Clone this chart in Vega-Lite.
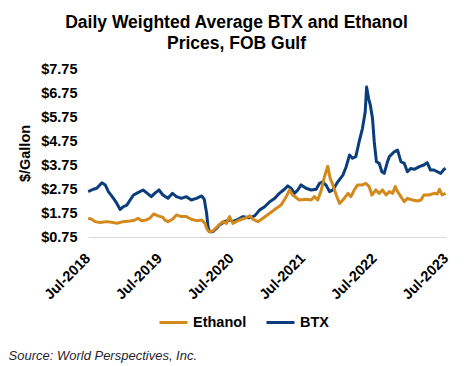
{
  "$schema": "https://vega.github.io/schema/vega-lite/v6.json",
  "width": 358,
  "height": 168,
  "autosize": {"type": "none"},
  "padding": {"left": 88, "top": 69, "right": 29, "bottom": 129},
  "background": "white",
  "config": {
    "font": "Liberation Sans",
    "view": {"stroke": null}
  },
  "title": {
    "text": ["Daily Weighted Average BTX and Ethanol", "Prices, FOB Gulf"],
    "font": "Liberation Sans",
    "fontSize": 17.5,
    "fontWeight": "bold",
    "color": "#000000",
    "anchor": "middle",
    "dx": -30.5,
    "lineHeight": 21,
    "offset": 9
  },
  "data": {
    "values": [
      {"date": "2018-07-02", "series": "BTX", "price": 2.64},
      {"date": "2018-07-28", "series": "BTX", "price": 2.74},
      {"date": "2018-08-15", "series": "BTX", "price": 2.78},
      {"date": "2018-09-10", "series": "BTX", "price": 3.01},
      {"date": "2018-09-27", "series": "BTX", "price": 2.92},
      {"date": "2018-10-13", "series": "BTX", "price": 2.64},
      {"date": "2018-11-08", "series": "BTX", "price": 2.36},
      {"date": "2018-11-25", "series": "BTX", "price": 2.15},
      {"date": "2018-12-12", "series": "BTX", "price": 1.9},
      {"date": "2018-12-28", "series": "BTX", "price": 2.01},
      {"date": "2019-01-15", "series": "BTX", "price": 2.08},
      {"date": "2019-02-01", "series": "BTX", "price": 2.29},
      {"date": "2019-02-18", "series": "BTX", "price": 2.5},
      {"date": "2019-03-13", "series": "BTX", "price": 2.6},
      {"date": "2019-04-08", "series": "BTX", "price": 2.71},
      {"date": "2019-04-25", "series": "BTX", "price": 2.6},
      {"date": "2019-05-20", "series": "BTX", "price": 2.43},
      {"date": "2019-06-06", "series": "BTX", "price": 2.57},
      {"date": "2019-06-28", "series": "BTX", "price": 2.71},
      {"date": "2019-07-18", "series": "BTX", "price": 2.5},
      {"date": "2019-08-13", "series": "BTX", "price": 2.36},
      {"date": "2019-09-05", "series": "BTX", "price": 2.57},
      {"date": "2019-09-25", "series": "BTX", "price": 2.43},
      {"date": "2019-10-20", "series": "BTX", "price": 2.36},
      {"date": "2019-11-15", "series": "BTX", "price": 2.43},
      {"date": "2019-12-10", "series": "BTX", "price": 2.29},
      {"date": "2020-01-05", "series": "BTX", "price": 2.36},
      {"date": "2020-02-01", "series": "BTX", "price": 2.46},
      {"date": "2020-02-14", "series": "BTX", "price": 2.32},
      {"date": "2020-02-26", "series": "BTX", "price": 1.74},
      {"date": "2020-03-04", "series": "BTX", "price": 1.18},
      {"date": "2020-03-12", "series": "BTX", "price": 0.97},
      {"date": "2020-03-29", "series": "BTX", "price": 0.97},
      {"date": "2020-04-16", "series": "BTX", "price": 1.11},
      {"date": "2020-05-02", "series": "BTX", "price": 1.25},
      {"date": "2020-05-28", "series": "BTX", "price": 1.39},
      {"date": "2020-06-22", "series": "BTX", "price": 1.46},
      {"date": "2020-07-09", "series": "BTX", "price": 1.39},
      {"date": "2020-08-04", "series": "BTX", "price": 1.49},
      {"date": "2020-08-30", "series": "BTX", "price": 1.6},
      {"date": "2020-09-29", "series": "BTX", "price": 1.55},
      {"date": "2020-10-28", "series": "BTX", "price": 1.63},
      {"date": "2020-11-23", "series": "BTX", "price": 1.88},
      {"date": "2020-12-18", "series": "BTX", "price": 2.01},
      {"date": "2021-01-13", "series": "BTX", "price": 2.22},
      {"date": "2021-02-08", "series": "BTX", "price": 2.36},
      {"date": "2021-03-03", "series": "BTX", "price": 2.57},
      {"date": "2021-03-29", "series": "BTX", "price": 2.74},
      {"date": "2021-04-15", "series": "BTX", "price": 2.88},
      {"date": "2021-05-02", "series": "BTX", "price": 2.78},
      {"date": "2021-05-19", "series": "BTX", "price": 2.57},
      {"date": "2021-06-05", "series": "BTX", "price": 2.71},
      {"date": "2021-06-22", "series": "BTX", "price": 2.92},
      {"date": "2021-07-17", "series": "BTX", "price": 2.78},
      {"date": "2021-08-12", "series": "BTX", "price": 2.71},
      {"date": "2021-09-07", "series": "BTX", "price": 2.74},
      {"date": "2021-09-24", "series": "BTX", "price": 2.99},
      {"date": "2021-10-10", "series": "BTX", "price": 3.05},
      {"date": "2021-10-28", "series": "BTX", "price": 2.9},
      {"date": "2021-11-14", "series": "BTX", "price": 2.64},
      {"date": "2021-12-01", "series": "BTX", "price": 2.71},
      {"date": "2021-12-26", "series": "BTX", "price": 3.05},
      {"date": "2022-01-21", "series": "BTX", "price": 3.33},
      {"date": "2022-02-07", "series": "BTX", "price": 3.68},
      {"date": "2022-02-24", "series": "BTX", "price": 4.17},
      {"date": "2022-03-11", "series": "BTX", "price": 4.03},
      {"date": "2022-03-28", "series": "BTX", "price": 4.1},
      {"date": "2022-04-14", "series": "BTX", "price": 4.72},
      {"date": "2022-05-01", "series": "BTX", "price": 5.28},
      {"date": "2022-05-15", "series": "BTX", "price": 5.97},
      {"date": "2022-05-22", "series": "BTX", "price": 7.0},
      {"date": "2022-06-01", "series": "BTX", "price": 6.53},
      {"date": "2022-06-10", "series": "BTX", "price": 6.25},
      {"date": "2022-06-21", "series": "BTX", "price": 5.7},
      {"date": "2022-06-30", "series": "BTX", "price": 4.72},
      {"date": "2022-07-11", "series": "BTX", "price": 3.89},
      {"date": "2022-07-25", "series": "BTX", "price": 3.82},
      {"date": "2022-08-08", "series": "BTX", "price": 3.47},
      {"date": "2022-08-20", "series": "BTX", "price": 3.4},
      {"date": "2022-09-06", "series": "BTX", "price": 3.9},
      {"date": "2022-09-15", "series": "BTX", "price": 4.1},
      {"date": "2022-10-10", "series": "BTX", "price": 4.3},
      {"date": "2022-10-27", "series": "BTX", "price": 4.37},
      {"date": "2022-11-13", "series": "BTX", "price": 3.89},
      {"date": "2022-11-30", "series": "BTX", "price": 3.82},
      {"date": "2022-12-16", "series": "BTX", "price": 3.47},
      {"date": "2023-01-03", "series": "BTX", "price": 3.61},
      {"date": "2023-01-20", "series": "BTX", "price": 3.57},
      {"date": "2023-02-15", "series": "BTX", "price": 3.68},
      {"date": "2023-03-10", "series": "BTX", "price": 3.75},
      {"date": "2023-03-27", "series": "BTX", "price": 3.85},
      {"date": "2023-04-13", "series": "BTX", "price": 3.54},
      {"date": "2023-05-01", "series": "BTX", "price": 3.54},
      {"date": "2023-05-17", "series": "BTX", "price": 3.47},
      {"date": "2023-06-04", "series": "BTX", "price": 3.4},
      {"date": "2023-06-21", "series": "BTX", "price": 3.57},
      {"date": "2023-06-29", "series": "BTX", "price": 3.61},
      {"date": "2018-07-02", "series": "Ethanol", "price": 1.53},
      {"date": "2018-07-20", "series": "Ethanol", "price": 1.49},
      {"date": "2018-08-06", "series": "Ethanol", "price": 1.39},
      {"date": "2018-09-01", "series": "Ethanol", "price": 1.35},
      {"date": "2018-10-05", "series": "Ethanol", "price": 1.39},
      {"date": "2018-11-08", "series": "Ethanol", "price": 1.35},
      {"date": "2018-11-25", "series": "Ethanol", "price": 1.32},
      {"date": "2018-12-28", "series": "Ethanol", "price": 1.39},
      {"date": "2019-02-01", "series": "Ethanol", "price": 1.42},
      {"date": "2019-02-26", "series": "Ethanol", "price": 1.46},
      {"date": "2019-03-13", "series": "Ethanol", "price": 1.53},
      {"date": "2019-03-31", "series": "Ethanol", "price": 1.43},
      {"date": "2019-04-25", "series": "Ethanol", "price": 1.46},
      {"date": "2019-05-12", "series": "Ethanol", "price": 1.53},
      {"date": "2019-06-01", "series": "Ethanol", "price": 1.71},
      {"date": "2019-06-23", "series": "Ethanol", "price": 1.63},
      {"date": "2019-07-18", "series": "Ethanol", "price": 1.57},
      {"date": "2019-07-27", "series": "Ethanol", "price": 1.46},
      {"date": "2019-08-13", "series": "Ethanol", "price": 1.39},
      {"date": "2019-09-05", "series": "Ethanol", "price": 1.49},
      {"date": "2019-09-25", "series": "Ethanol", "price": 1.67},
      {"date": "2019-10-20", "series": "Ethanol", "price": 1.6},
      {"date": "2019-11-15", "series": "Ethanol", "price": 1.6},
      {"date": "2019-12-10", "series": "Ethanol", "price": 1.49},
      {"date": "2020-01-05", "series": "Ethanol", "price": 1.43},
      {"date": "2020-02-01", "series": "Ethanol", "price": 1.46},
      {"date": "2020-02-18", "series": "Ethanol", "price": 1.32},
      {"date": "2020-02-26", "series": "Ethanol", "price": 1.11},
      {"date": "2020-03-09", "series": "Ethanol", "price": 0.97},
      {"date": "2020-03-29", "series": "Ethanol", "price": 1.0},
      {"date": "2020-04-24", "series": "Ethanol", "price": 1.21},
      {"date": "2020-05-19", "series": "Ethanol", "price": 1.39},
      {"date": "2020-06-06", "series": "Ethanol", "price": 1.32},
      {"date": "2020-06-22", "series": "Ethanol", "price": 1.6},
      {"date": "2020-07-09", "series": "Ethanol", "price": 1.32},
      {"date": "2020-08-12", "series": "Ethanol", "price": 1.46},
      {"date": "2020-09-07", "series": "Ethanol", "price": 1.53},
      {"date": "2020-10-03", "series": "Ethanol", "price": 1.63},
      {"date": "2020-10-19", "series": "Ethanol", "price": 1.49},
      {"date": "2020-11-14", "series": "Ethanol", "price": 1.39},
      {"date": "2020-12-09", "series": "Ethanol", "price": 1.53},
      {"date": "2021-01-13", "series": "Ethanol", "price": 1.74},
      {"date": "2021-02-16", "series": "Ethanol", "price": 1.95},
      {"date": "2021-03-12", "series": "Ethanol", "price": 2.08},
      {"date": "2021-04-07", "series": "Ethanol", "price": 2.43},
      {"date": "2021-04-24", "series": "Ethanol", "price": 2.71},
      {"date": "2021-05-10", "series": "Ethanol", "price": 2.5},
      {"date": "2021-06-13", "series": "Ethanol", "price": 2.29},
      {"date": "2021-07-17", "series": "Ethanol", "price": 2.32},
      {"date": "2021-08-12", "series": "Ethanol", "price": 2.29},
      {"date": "2021-08-29", "series": "Ethanol", "price": 2.43},
      {"date": "2021-09-15", "series": "Ethanol", "price": 2.29},
      {"date": "2021-10-03", "series": "Ethanol", "price": 2.71},
      {"date": "2021-10-19", "series": "Ethanol", "price": 3.26},
      {"date": "2021-11-05", "series": "Ethanol", "price": 3.7},
      {"date": "2021-11-17", "series": "Ethanol", "price": 3.2},
      {"date": "2021-12-01", "series": "Ethanol", "price": 2.92},
      {"date": "2021-12-18", "series": "Ethanol", "price": 2.5},
      {"date": "2022-01-04", "series": "Ethanol", "price": 2.15},
      {"date": "2022-01-21", "series": "Ethanol", "price": 2.29},
      {"date": "2022-02-16", "series": "Ethanol", "price": 2.57},
      {"date": "2022-03-03", "series": "Ethanol", "price": 2.43},
      {"date": "2022-03-20", "series": "Ethanol", "price": 2.71},
      {"date": "2022-04-06", "series": "Ethanol", "price": 2.92},
      {"date": "2022-05-01", "series": "Ethanol", "price": 2.92},
      {"date": "2022-05-18", "series": "Ethanol", "price": 2.99},
      {"date": "2022-06-04", "series": "Ethanol", "price": 2.85},
      {"date": "2022-06-18", "series": "Ethanol", "price": 2.5},
      {"date": "2022-07-08", "series": "Ethanol", "price": 2.71},
      {"date": "2022-07-25", "series": "Ethanol", "price": 2.57},
      {"date": "2022-08-11", "series": "Ethanol", "price": 2.71},
      {"date": "2022-08-29", "series": "Ethanol", "price": 2.5},
      {"date": "2022-09-15", "series": "Ethanol", "price": 2.64},
      {"date": "2022-10-02", "series": "Ethanol", "price": 2.57},
      {"date": "2022-10-15", "series": "Ethanol", "price": 2.85},
      {"date": "2022-10-27", "series": "Ethanol", "price": 2.64},
      {"date": "2022-11-13", "series": "Ethanol", "price": 2.43},
      {"date": "2022-11-30", "series": "Ethanol", "price": 2.22},
      {"date": "2022-12-16", "series": "Ethanol", "price": 2.36},
      {"date": "2023-01-11", "series": "Ethanol", "price": 2.29},
      {"date": "2023-02-06", "series": "Ethanol", "price": 2.25},
      {"date": "2023-02-23", "series": "Ethanol", "price": 2.29},
      {"date": "2023-03-10", "series": "Ethanol", "price": 2.5},
      {"date": "2023-04-05", "series": "Ethanol", "price": 2.5},
      {"date": "2023-05-01", "series": "Ethanol", "price": 2.57},
      {"date": "2023-05-17", "series": "Ethanol", "price": 2.54},
      {"date": "2023-05-29", "series": "Ethanol", "price": 2.74},
      {"date": "2023-06-11", "series": "Ethanol", "price": 2.5},
      {"date": "2023-06-29", "series": "Ethanol", "price": 2.57}
    ]
  },
  "mark": {"type": "line", "strokeWidth": 3, "strokeJoin": "round"},
  "encoding": {
    "x": {
      "field": "date",
      "type": "temporal",
      "scale": {
        "type": "utc",
        "domain": [
          {"year": 2018, "month": 7, "date": 1, "utc": true},
          {"year": 2023, "month": 7, "date": 1, "utc": true}
        ]
      },
      "axis": {
        "values": [
          {"year": 2018, "month": 7, "date": 1, "utc": true},
          {"year": 2019, "month": 7, "date": 1, "utc": true},
          {"year": 2020, "month": 7, "date": 1, "utc": true},
          {"year": 2021, "month": 7, "date": 1, "utc": true},
          {"year": 2022, "month": 7, "date": 1, "utc": true},
          {"year": 2023, "month": 7, "date": 1, "utc": true}
        ],
        "labelExpr": "utcFormat(datum.value, '%b-%Y')",
        "labelAngle": -45,
        "labelAlign": "right",
        "labelBaseline": "middle",
        "labelFont": "Liberation Sans",
        "labelFontSize": 14.5,
        "labelFontWeight": "bold",
        "labelColor": "#000000",
        "labelPadding": 19,
        "labelOverlap": false,
        "labelFlush": false,
        "ticks": false,
        "grid": false,
        "domainColor": "#D9D9D9",
        "domainWidth": 1,
        "title": "Source: World Perspectives, Inc.",
        "titleFont": "Liberation Sans",
        "titleFontSize": 13,
        "titleFontWeight": "normal",
        "titleFontStyle": "italic",
        "titleColor": "#1F1F2F",
        "titleX": -80,
        "titleY": 118,
        "titleAlign": "left",
        "titleAnchor": "start",
        "titleBaseline": "middle"
      }
    },
    "y": {
      "field": "price",
      "type": "quantitative",
      "scale": {"domain": [0.75, 7.75], "nice": false, "zero": false},
      "axis": {
        "values": [0.75, 1.75, 2.75, 3.75, 4.75, 5.75, 6.75, 7.75],
        "format": "$.2f",
        "labelFont": "Liberation Sans",
        "labelFontSize": 14.5,
        "labelFontWeight": "bold",
        "labelColor": "#000000",
        "labelPadding": 11,
        "ticks": false,
        "grid": false,
        "domain": false,
        "title": "$/Gallon",
        "titleFont": "Liberation Sans",
        "titleFontSize": 14.5,
        "titleFontWeight": "bold",
        "titleColor": "#000000",
        "titleAngle": 270,
        "titleX": -63,
        "titleY": 84,
        "titleAlign": "center",
        "titleBaseline": "middle"
      }
    },
    "color": {
      "field": "series",
      "type": "nominal",
      "scale": {"domain": ["Ethanol", "BTX"], "range": ["#D4891C", "#0A3D7C"]},
      "legend": {
        "orient": "none",
        "direction": "horizontal",
        "legendX": 70,
        "legendY": 238,
        "title": null,
        "symbolType": "stroke",
        "symbolSize": 784,
        "symbolStrokeWidth": 3,
        "labelFont": "Liberation Sans",
        "labelFontSize": 14.5,
        "labelFontWeight": "bold",
        "labelColor": "#000000",
        "labelOffset": 4,
        "columnPadding": 13
      }
    }
  }
}
